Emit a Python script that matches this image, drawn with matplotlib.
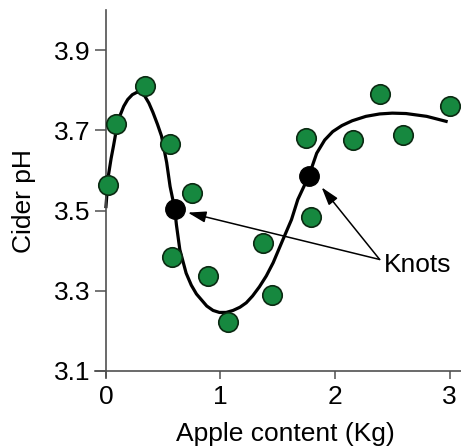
import matplotlib
matplotlib.use('Agg')
import matplotlib.pyplot as plt

plt.rcParams['font.family'] = ['Liberation Sans', 'DejaVu Sans']

# observed points (apple content in Kg, cider pH)
apple = [0.02, 0.09, 0.34, 0.56, 0.75, 0.575, 0.89, 1.065, 1.37, 1.45,
         1.79, 1.745, 2.16, 2.39, 2.59, 3.0]
ph = [3.565, 3.715, 3.81, 3.665, 3.545, 3.383, 3.338, 3.222, 3.42, 3.29,
      3.485, 3.68, 3.675, 3.79, 3.688, 3.76]

# knots of the spline
knot_x = [0.60, 1.77]
knot_y = [3.505, 3.585]

# fitted spline
curve_x = [0.0, 0.02, 0.045, 0.065, 0.09, 0.12, 0.155, 0.19, 0.23, 0.27,
           0.305, 0.34, 0.375, 0.41, 0.45, 0.485, 0.53, 0.56, 0.60, 0.615,
           0.645, 0.70, 0.745, 0.79, 0.88, 0.935, 0.99, 1.05, 1.11, 1.17,
           1.225, 1.28, 1.34, 1.40, 1.46, 1.545, 1.62, 1.675, 1.72, 1.77,
           1.84, 1.91, 1.98, 2.06, 2.15, 2.27, 2.39, 2.50, 2.62, 2.80, 2.97]
curve_y = [3.51, 3.585, 3.63, 3.66, 3.70, 3.735, 3.76, 3.777, 3.789, 3.795,
           3.794, 3.785, 3.768, 3.745, 3.715, 3.686, 3.62, 3.56, 3.505, 3.465,
           3.4025, 3.344, 3.314, 3.292, 3.262, 3.251, 3.246, 3.246, 3.251,
           3.259, 3.27, 3.287, 3.31, 3.337, 3.37, 3.4275, 3.4775, 3.5275,
           3.555, 3.585, 3.643, 3.676, 3.697, 3.712, 3.724, 3.735, 3.741,
           3.743, 3.742, 3.735, 3.7225]

green = '#16883f'
fs = 19

fig = plt.figure(figsize=(4.61, 4.48), dpi=100)
ax = fig.add_axes([0.205, 0.1585, 0.795, 0.819])

ax.plot(curve_x, curve_y, color='black', lw=2.3, zorder=2, clip_on=False,
        solid_joinstyle='round')
ax.plot(apple, ph, 'o', ms=14, mfc=green, mec='#0b2a12', mew=1.2,
        zorder=3, clip_on=False)
ax.plot(knot_x, knot_y, 'o', ms=14, mfc='black', mec='black',
        zorder=4, clip_on=False)

# arrows pointing to the knots
tail = (2.39, 3.378)
heads = [(0.715, 3.495), (1.883, 3.558)]
for h in heads:
    ax.annotate('', xy=h, xytext=tail,
                arrowprops=dict(arrowstyle='-|>,head_length=0.55,head_width=0.17',
                                mutation_scale=20, color='black', lw=1.1,
                                shrinkA=0, shrinkB=0))
ax.text(2.43, 3.365, 'Knots', fontsize=fs, va='center', ha='left')

ax.set_xlim(-0.1, 3.1)
ax.set_ylim(3.085, 4.0)
ax.set_xticks([0, 1, 2, 3])
ax.set_yticks([3.1, 3.3, 3.5, 3.7, 3.9])
ax.set_yticklabels(['3.1', '3.3', '3.5', '3.7', '3.9'])

for s in ['top', 'right']:
    ax.spines[s].set_visible(False)
ax.spines['left'].set_position(('data', 0))
ax.spines['bottom'].set_position(('data', 3.1))
for s in ['left', 'bottom']:
    ax.spines[s].set_color('#505050')
    ax.spines[s].set_linewidth(1.2)

ax.tick_params(axis='y', direction='out', length=8, width=1.1,
               color='#505050', labelsize=fs, pad=3)
ax.tick_params(axis='x', direction='out', length=6, width=1.1,
               color='#505050', labelsize=fs, pad=4)

ax.set_xlabel('Apple content (Kg)', fontsize=fs)
ax.set_ylabel('Cider pH', fontsize=fs)
ax.xaxis.set_label_coords(0.52, -0.122)
ax.yaxis.set_label_coords(-0.16, 0.48)

fig.savefig('out.png', dpi=100)
